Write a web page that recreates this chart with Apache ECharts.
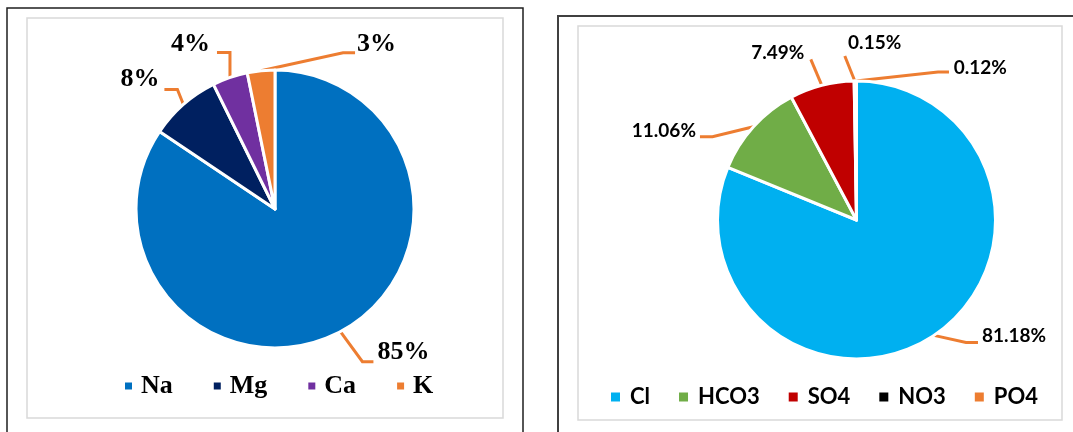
<!DOCTYPE html>
<html><head><meta charset="utf-8">
<script src="https://cdn.jsdelivr.net/npm/echarts@6/dist/echarts.min.js"></script>
<style>html,body{margin:0;padding:0;background:#fff}#c{width:1073px;height:432px}</style>
</head><body><div id="c"></div>
<script>
// ---- data ----
const cationNames = ['Na', 'Mg', 'Ca', 'K'];
const cationValues = [84.4, 8.3, 4.1, 3.2];
const anionNames = ['Cl', 'HCO3', 'SO4', 'NO3', 'PO4'];
const anionValues = [81.18, 11.06, 7.49, 0.15, 0.12];

// ---- styles ----
const cationColors = ['#0070C0', '#002060', '#7030A0', '#ED7D31'];
const anionColors = ['#00B0F0', '#70AD47', '#C00000', '#000000', '#ED7D31'];
const leaderColor = '#ED7D31';

// leader line shape: bend offset from the slice edge point, horizontal tail, label offset from line end
const cationLeaders = [
  {bend: [22, 30], tail: 11, align: 'left', off: [4, -9.5]},
  {bend: [-6, -15], tail: -13, align: 'right', off: [-5, -10]},
  {bend: [0, -25], tail: -13, align: 'right', off: [-7, -8.5]},
  {bend: [82, -18], tail: 12, align: 'left', off: [2, -8.5]}
];
const anionLeaders = [
  {bend: [32, 7], tail: 12, align: 'left', off: [4, -6.5]},
  {bend: [-41, 10], tail: -12.5, align: 'right', off: [-4, -6.3]},
  {bend: [-11, -26], tail: 0, align: 'right', off: [-6.5, -6.2]},
  {bend: [-10, -25], tail: 0, align: 'left', off: [3.3, -13.3]},
  {bend: [82, -9], tail: 11, align: 'left', off: [4.7, -4.5]}
];

function leaderLayout(cfg) {
  return function (p) {
    const c = cfg[p.dataIndex];
    const pts = p.labelLinePoints;
    if (!c || !pts) return {};
    const a = pts[0];
    const b = [a[0] + c.bend[0], a[1] + c.bend[1]];
    const e = [b[0] + c.tail, b[1]];
    return {
      x: e[0] + c.off[0], y: e[1] + c.off[1],
      align: c.align, verticalAlign: 'middle',
      labelLinePoints: [a, b, e]
    };
  };
}

function toData(names, values, colors) {
  return names.map((n, i) => ({name: n, value: values[i], itemStyle: {color: colors[i]}}));
}

const serifFont = 'Liberation Serif';
const sansFont = 'Lato';

const chart = echarts.init(document.getElementById('c'), null, {renderer: 'canvas'});
chart.setOption({
  animation: false,
  backgroundColor: '#ffffff',
  graphic: [
    {type: 'rect', silent: true, z: 0, shape: {x: 7, y: 8, width: 516, height: 440},
      style: {fill: 'none', stroke: '#1f1f1f', lineWidth: 1.5}},
    {type: 'rect', silent: true, z: 0, shape: {x: 27, y: 18, width: 476, height: 400},
      style: {fill: 'none', stroke: '#d9d9d9', lineWidth: 1.5}},
    {type: 'rect', silent: true, z: 0, shape: {x: 558, y: 16, width: 540, height: 440},
      style: {fill: 'none', stroke: '#404040', lineWidth: 2}},
    {type: 'rect', silent: true, z: 0, shape: {x: 578, y: 26, width: 484, height: 394},
      style: {fill: 'none', stroke: '#d9d9d9', lineWidth: 1.5}}
  ],
  legend: [
    {
      data: cationNames, left: 123, top: 373, padding: 0,
      icon: 'rect', itemWidth: 9, itemHeight: 9, itemGap: 39,
      selectedMode: false,
      textStyle: {fontFamily: serifFont, fontWeight: 'bold', fontSize: 26, color: '#000', padding: [0, 0, 0, 3]}
    },
    {
      data: anionNames, left: 609, top: 386, padding: 0,
      icon: 'rect', itemWidth: 11, itemHeight: 11, itemGap: 27,
      selectedMode: false,
      textStyle: {fontFamily: sansFont, fontWeight: 'bold', fontSize: 22, color: '#000', padding: [0, 0, 0, 4]}
    }
  ],
  series: [
    {
      type: 'pie', name: 'cations',
      center: [275, 209], radius: 139,
      startAngle: 90, clockwise: true,
      avoidLabelOverlap: false,
      percentPrecision: 0,
      data: toData(cationNames, cationValues, cationColors),
      itemStyle: {borderColor: '#ffffff', borderWidth: 3},
      label: {show: true, position: 'outside', formatter: '{d}%',
        fontFamily: serifFont, fontWeight: 'bold', fontSize: 26, color: '#000'},
      labelLine: {show: true, length: 10, length2: 10,
        lineStyle: {color: leaderColor, width: 3}},
      labelLayout: leaderLayout(cationLeaders),
      emphasis: {disabled: true}
    },
    {
      type: 'pie', name: 'anions',
      center: [856.5, 220], radius: 139,
      startAngle: 90, clockwise: true,
      avoidLabelOverlap: false,
      percentPrecision: 2,
      data: toData(anionNames, anionValues, anionColors),
      itemStyle: {borderColor: '#ffffff', borderWidth: 3},
      label: {show: true, position: 'outside', formatter: '{d}%',
        fontFamily: sansFont, fontWeight: 'bold', fontSize: 19, color: '#000'},
      labelLine: {show: true, length: 10, length2: 10,
        lineStyle: {color: leaderColor, width: 3}},
      labelLayout: leaderLayout(anionLeaders),
      emphasis: {disabled: true}
    }
  ]
});
</script>
</body></html>
